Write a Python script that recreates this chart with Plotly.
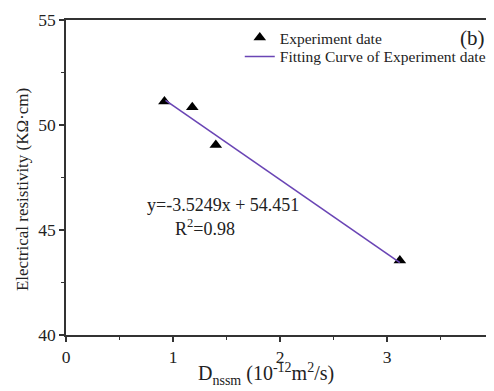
import plotly.graph_objects as go

exp_x = [0.92, 1.18, 1.40, 3.12]
exp_y = [51.12, 50.85, 49.05, 43.55]
fit_x = [0.93, 3.12]
fit_y = [51.17, 43.45]
x_ticks = [0, 1, 2, 3, 4]
y_ticks = [40, 45, 50, 55]

FONT = "Liberation Serif"
INK = "#222"

fig = go.Figure()
fig.add_trace(go.Scatter(x=exp_x, y=exp_y, mode="markers", name="Experiment date",
                         marker=dict(symbol="triangle-up", size=11, color="black"),
                         legend="legend", showlegend=True))
fig.add_trace(go.Scatter(x=fit_x, y=fit_y, mode="lines", name="Fitting Curve of Experiment date",
                         line=dict(color="#6a45b5", width=1.6), legend="legend2", showlegend=True))

axis_common = dict(showgrid=False, zeroline=False, showline=True, linecolor="#333",
                   linewidth=1.5, ticks="outside", ticklen=5, tickwidth=1.5, tickcolor="#333",
                   automargin=False,
                   tickfont=dict(family=FONT, size=17.5, color=INK),
                   minor=dict(ticks="outside", ticklen=3, tickwidth=1.2, tickcolor="#333"))

fig.update_xaxes(range=[0, 4], tickvals=x_ticks, mirror=True, minor_dtick=0.5, **axis_common)
fig.update_yaxes(range=[40, 55], tickvals=y_ticks, minor_dtick=2.5, **axis_common)

# axis titles
fig.add_annotation(x=0.467, y=-0.125, xref="paper", yref="paper",
                   text="D<sub>nssm</sub> (10<sup>-12</sup>m<sup>2</sup>/s)",
                   showarrow=False, xanchor="center", yanchor="middle",
                   font=dict(family=FONT, size=20, color=INK))
fig.add_annotation(x=-0.1028, y=0.46, xref="paper", yref="paper",
                   text="Electrical resistivity (KΩ·cm)", textangle=-90,
                   showarrow=False, xanchor="center", yanchor="middle",
                   font=dict(family=FONT, size=17, color=INK))

fig.add_annotation(x=1.47, y=46.2, xref="x", yref="y", text="y=-3.5249x + 54.451",
                   showarrow=False, font=dict(family=FONT, size=18, color=INK))
fig.add_annotation(x=1.30, y=45.1, xref="x", yref="y", text="R<sup>2</sup>=0.98",
                   showarrow=False, font=dict(family=FONT, size=18, color=INK))
fig.add_annotation(x=0.983, y=0.943, xref="paper", yref="paper", text="(b)", showarrow=False,
                   xanchor="right", yanchor="middle",
                   font=dict(family=FONT, size=21, color=INK))

leg_common = dict(x=0.406, xanchor="left", yanchor="middle",
                  font=dict(family=FONT, size=15.5, color=INK),
                  bgcolor="rgba(0,0,0,0)", itemwidth=30, visible=True)

fig.update_layout(
    width=486, height=383,
    margin=dict(l=58, r=0, t=12, b=56, autoexpand=False),
    paper_bgcolor="white", plot_bgcolor="white",
    showlegend=True,
    legend=dict(y=0.943, **leg_common),
    legend2=dict(y=0.883, **leg_common),
    font=dict(family=FONT),
)

fig.write_html("out.html")
